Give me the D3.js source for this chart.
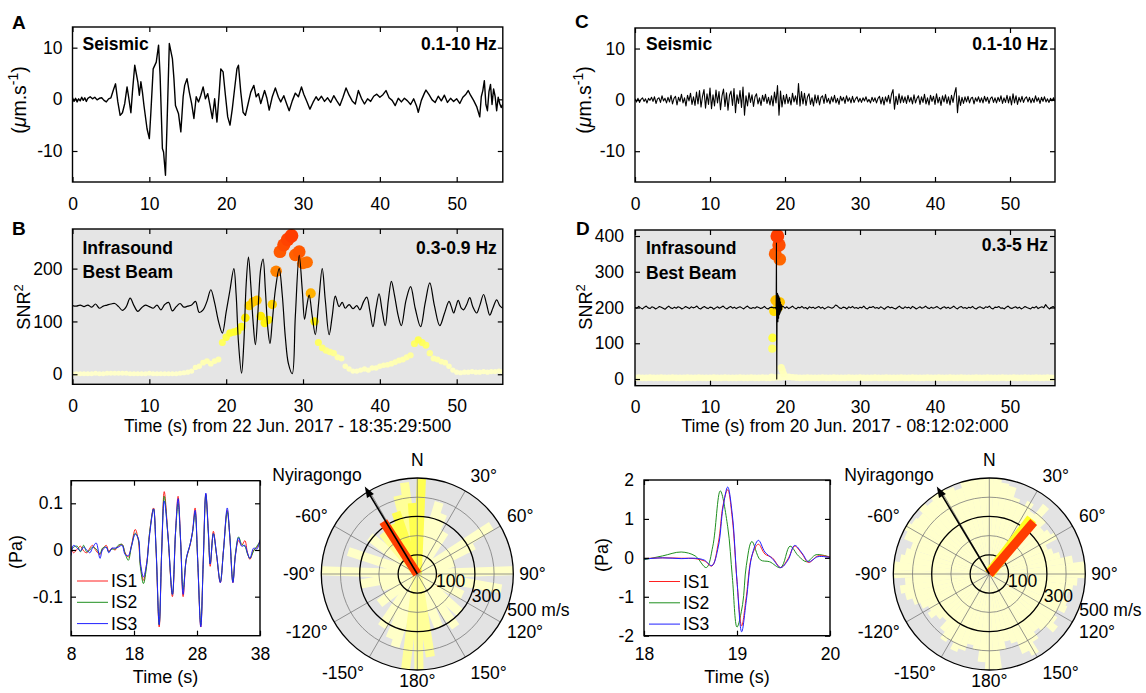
<!DOCTYPE html>
<html><head><meta charset="utf-8">
<script src="https://cdn.jsdelivr.net/npm/d3@7/dist/d3.min.js"></script>
<style>
html,body{margin:0;padding:0;background:#fff;}
svg{display:block;}
</style></head>
<body>
<svg id="fig" width="1146" height="693"></svg>
<script>
// ====================== DATA ======================
const timeTicks = [0,10,20,30,40,50];
const seisTicks = [-10,0,10];
const snrTicksB = [0,100,200];
const snrTicksD = [0,100,200,300,400];
const paTicksE = [-0.1,0,0.1];
const timeTicksE = [8,18,28,38];
const paTicksF = [-2,-1,0,1,2];
const timeTicksF = [18,19,20];

// Panel A: seismic trace (t [s], velocity [µm/s])
const seisA = [[0,0.3],[0.2,-0.4],[0.4,0.2],[0.6,-0.5],[0.8,0.1],[1,-0.3],[1.2,0.4],[1.4,-0.2],[1.6,0.3],[1.8,-0.4],[2,0.2],[2.3,0.5],[2.6,0.1],[2.9,0.4],[3.2,-0.1],[3.5,0.2],[3.8,0.3],[4.1,-0.2],[4.4,-0.5],[4.7,0.1],[5,0.3],[5.3,1.7],[5.6,3.0],[5.9,-0.5],[6.2,-3.1],[6.5,-2.6],[6.8,-0.8],[7.1,2.4],[7.3,0.5],[7.6,-2.6],[7.8,1.4],[8.1,6.6],[8.3,5.0],[8.5,3.4],[8.7,0.8],[8.9,3.4],[9.1,1.4],[9.3,-1.2],[9.7,-5.7],[10,-7.6],[10.2,-2.5],[10.5,5.9],[10.9,7.2],[11.2,10.5],[11.4,4.6],[11.7,-9.5],[11.85,-10.2],[12.1,-14.7],[12.3,-5.0],[12.6,10.8],[13,7.9],[13.2,4.0],[13.4,-1.2],[13.8,-2.8],[14.1,-6.3],[14.4,0.5],[14.6,2.7],[14.9,4.0],[15.2,1.4],[15.5,-0.8],[15.8,-3.7],[16.1,0.5],[16.4,-0.5],[16.7,0.8],[17,2.4],[17.3,0.1],[17.6,1.1],[17.9,-1.2],[18.2,-3.7],[18.5,0.1],[18.8,-4.4],[19.1,1.4],[19.3,5.9],[19.6,5.3],[19.9,0.8],[20.2,-3.4],[20.5,-5.0],[20.8,-1.8],[21.1,2.1],[21.4,5.9],[21.6,6.6],[21.9,1.4],[22.2,-2.5],[22.5,-3.1],[22.8,-1.2],[23.2,1.4],[23.6,2.7],[23.9,0.5],[24.2,1.1],[24.5,-0.8],[25,1.7],[25.3,0.2],[25.6,-2.1],[26,0.5],[26.4,2.2],[26.8,0.4],[27.1,-0.5],[27.5,0.7],[27.9,-1.0],[28.2,-2.2],[28.6,-0.3],[29,1.2],[29.4,0.5],[29.8,2.4],[30.1,1.0],[30.5,-0.4],[30.9,-1.9],[31.3,-0.6],[31.7,0.5],[32,-0.2],[32.4,0.6],[32.8,-0.4],[33.2,0.3],[33.6,-0.6],[34,0.7],[34.4,-0.3],[34.8,-1.2],[35.2,0.4],[35.6,2.2],[36,0.8],[36.4,-0.3],[36.8,-0.9],[37.2,1.7],[37.6,0.2],[38,-0.9],[38.4,0.1],[38.8,-0.4],[39.2,0.6],[39.6,1.0],[40,0.4],[40.4,0.9],[40.8,1.7],[41.2,0.3],[41.6,-0.2],[42,-1.2],[42.4,0.2],[42.8,-0.5],[43.2,0.2],[43.6,-0.3],[44,-1.0],[44.4,0.1],[44.8,-1.4],[45,-2.5],[45.4,-0.2],[45.8,1.2],[46,1.8],[46.4,0.9],[46.8,-0.1],[47.2,-0.6],[47.6,0.6],[48,-0.3],[48.4,0.8],[48.8,-0.6],[49.2,0.2],[49.6,-0.4],[50,0.1],[50.4,-0.8],[50.8,0.4],[51.2,1.0],[51.5,1.7],[51.8,0.8],[52.2,-0.2],[52.6,-1.4],[53,-3.4],[53.2,0.5],[53.4,1.7],[53.6,3.6],[53.8,-1.0],[54,-2.2],[54.2,1.5],[54.4,2.9],[54.6,-1.0],[54.8,2.0],[55,0.6],[55.2,-2.2],[55.4,0.4],[55.6,-0.8],[55.8,-1.6],[56,-0.9]];

// Panel C: seismic trace sampled every 0.2 s
const seisC_dt = 0.2;
const seisC = [0.2,-0.4,0.3,-0.5,0.1,0.4,-0.3,0.2,-0.6,0.3,-0.1,
0.5,-0.3,0.6,-0.7,0.2,0.4,-0.5,0.8,-0.2,0.3,
-0.6,0.5,-0.4,0.9,-0.8,0.3,0.7,-1.0,0.5,-0.3,
1.1,-0.6,0.4,-1.2,0.9,-0.2,1.3,-0.9,0.6,-1.1,
1.5,-0.8,1.8,-1.4,0.7,2.0,-1.6,1.2,-0.9,2.3,
-1.7,1.0,-1.2,1.9,-0.6,1.6,-1.9,0.8,2.1,-1.3,
1.4,-2.0,0.9,1.7,-1.1,2.2,-2.5,1.0,-0.7,1.8,
-1.5,2.5,-3.0,0.8,-1.2,1.4,-0.5,1.0,-1.3,0.6,
1.2,-0.8,0.4,-1.1,0.9,-0.3,1.1,-0.7,0.5,-1.0,
0.8,-1.2,1.5,-0.6,2.8,-3.0,1.7,-1.4,0.9,-0.8,
1.1,-0.7,0.5,-1.0,1.3,-0.4,0.8,-0.9,3.2,-1.2,
1.6,-0.8,1.3,-1.1,0.6,1.2,-0.9,0.4,-1.2,1.0,
-0.6,0.9,-1.0,0.5,0.8,-0.7,1.1,-0.5,0.3,-0.8,
0.6,-0.4,0.9,-0.6,0.3,-0.9,0.7,-0.2,0.5,-0.7,
0.8,-0.3,0.4,-0.6,0.7,-0.5,0.2,0.6,-0.4,0.3,
-0.5,0.4,-0.2,0.6,-0.4,0.1,-0.6,0.5,-0.3,0.4,
-0.6,0.3,0.7,-0.8,0.5,-1.0,0.6,-0.4,0.9,-0.7,
1.1,2.0,-1.8,0.7,-0.9,1.2,-0.6,0.8,-0.5,0.6,
-0.7,0.9,-0.4,0.5,-0.8,1.0,-0.6,0.3,0.8,-0.9,
0.6,-0.5,1.1,-0.8,0.4,-1.0,0.9,-0.3,0.7,-0.9,
1.2,-0.6,0.5,-1.1,0.8,-0.4,1.0,-0.7,0.6,-1.0,
0.9,-0.5,1.2,2.4,-2.5,0.8,-1.1,0.5,-0.7,0.6,
-0.4,0.7,-0.6,0.3,0.5,-0.8,0.4,-0.3,0.6,-0.5,
0.4,-0.6,0.7,-0.3,0.5,-0.7,0.3,0.6,-0.5,0.4,
-0.6,0.5,-0.3,0.8,-0.7,0.4,-0.5,0.9,-0.6,0.7,
-1.0,1.2,-0.6,0.8,-0.9,0.5,-0.4,0.7,-0.5,0.3,
0.6,-0.4,0.5,-0.6,0.3,-0.5,0.8,-0.3,0.4,-0.7,
0.5,-0.3,0.6,-0.4,0.2,-0.5,0.3,-0.2,0.4,-0.3];

// Panel B: best-beam waveform (t, SNR^2 scale) and detections every 0.5 s
const beamB = [[0,130],[0.5,129],[1,131],[1.5,128],[2,131],[2.5,127],[3,133],[3.5,125],[4,129],[4.5,131],[5,133],[5.5,134],[6,128],[6.5,121],[7,128],[7.5,144],[8,130],[8.5,119],[9,126],[9.5,131],[10,128],[10.5,125],[11,131],[11.5,122],[12,132],[12.5,136],[13,120],[13.5,128],[14,134],[14.5,127],[15,129],[15.5,131],[16,138],[16.5,117],[17,122],[17.5,138],[18,160],[18.5,135],[19,100],[19.5,78],[20,118],[20.5,160],[21,200],[21.3,150],[21.6,60],[22,2],[22.3,60],[22.6,170],[22.9,222],[23.2,170],[23.5,100],[23.8,56],[24.1,110],[24.5,200],[24.8,218],[25.1,160],[25.4,90],[25.7,58],[26,100],[26.4,160],[26.9,200],[27.3,150],[27.7,70],[28.1,20],[28.6,1],[29,110],[29.5,225],[29.9,160],[30.2,104],[30.5,130],[30.8,150],[31.2,110],[31.6,75],[32,130],[32.5,200],[32.9,140],[33.4,75],[33.8,110],[34.2,148],[34.7,128],[35.1,136],[35.5,125],[36,132],[36.5,124],[37,130],[37.4,122],[37.9,138],[38.3,146],[38.7,120],[39.1,90],[39.5,125],[39.9,152],[40.3,120],[40.7,92],[41.1,140],[41.5,176],[41.9,150],[42.4,110],[42.8,92],[43.4,140],[44,166],[44.6,125],[45.3,90],[45.9,135],[46.5,173],[47.1,130],[47.8,92],[48.4,115],[49,138],[49.3,128],[49.6,116],[49.9,128],[50.2,140],[50.6,125],[50.9,122],[51.3,132],[51.7,145],[52.1,128],[52.6,116],[53,130],[53.5,151],[53.9,132],[54.3,112],[54.7,125],[55.2,141],[55.6,130],[56,125]];
const detB_dt = 0.5;
const detB = [1,1,1,1,1,1,2,1,1,2, 2,2,2,2,2,1,1,1,1,1, 2,1,1,1,1,1,1,1,2,3, 4,6,13,15,22,25,20,25,28,60, 70,78,80,82,90,107,130,137,140,110, 97,103,132,195,232,245,255,262,226,232, 210,212,153,100,60,50,45,42,40,32, 30,15,10,6,6,8,10,8,12,12, 15,17,18,20,23,26,28,32,36,58, 65,60,55,40,30,28,24,22,15,8, 4,3,4,4,5,4,4,5,4,5, 5,6,5];

// Panel D: best-beam waveform every 0.25 s plus the event, detections
const beamD_dt = 0.25;
const beamD = [200,198,203,199,196,201,204,199,197,
202,200,196,199,203,201,198,195,
200,204,199,197,201,198,202,200,
196,199,203,200,197,202,199,201,
204,198,196,200,203,199,197,201,
200,195,199,202,198,201,204,199,
196,200,203,198,201,197,200,202,
199,196,201,204,199,197,200,198,
202,200,197,199,203,198,196,200,
201,199,200,200,200,200,203,198,
202,197,200,204,199,196,201,199,
203,198,200,196,202,199,201,197,
200,203,198,201,196,199,202,200,
198,201,207,204,199,197,201,200,
196,202,199,203,198,200,197,201,
199,204,198,196,201,200,203,198,
200,197,202,199,195,200,203,199,
201,198,196,200,204,199,197,202,
199,201,197,203,200,196,199,202,
198,200,204,199,197,201,198,200,
203,199,196,200,202,198,201,197,
200,204,199,196,201,203,198,200,
197,201,199,203,198,196,200,202,
199,197,202,200,204,198,196,201,
200,203,198,199,196,201,204,199,
197,200,202,198,201,196,199,203,
200,198,196,201,199,203,197,200,
202,199,208,201,196,200,203,198];
const beamD_event = [[18.75,200],[18.82,196],[18.86,380],[18.9,0],[18.95,205],[19.0,240],[19.05,160],[19.1,235],[19.15,170],[19.2,230],[19.25,180],[19.3,225],[19.35,185],[19.4,215],[19.45,190],[19.5,208],[19.55,194],[19.6,204]];
const detD_dt = 0.5;
const detD = [3,4,3,3,4,3,3,4,3,3, 4,3,3,3,4,3,3,4,3,3, 3,4,3,3,4,3,3,3,4,3, 3,4,3,3,4,3,3,4,5,5, 6,6,5,4,3,3,4,3,3,3, 4,3,3,4,3,3,3,4,3,3, 4,3,3,3,4,3,3,4,3,3, 3,4,3,3,4,3,3,3,4,3, 3,4,3,3,4,3,3,4,3,3, 3,4,3,3,4,3,3,3,4,3, 3,4,3,3,4,3,3,4,3,3, 4,3,3];
const detD_event = [[18.2,6],[18.3,85],[18.35,115],[18.55,190],[18.75,220],[18.7,350],[18.98,400],[19.2,375],[19.3,335],[19.3,215],[19.05,200],[19.5,32],[19.65,24],[19.8,15],[19.95,9]];

// Bottom-left: pressure at IS1, IS2, IS3 [t, IS1, IS2, IS3] (Pa)
const waveE = [[8.0,0.008,-0.002,-0.012],[8.4,-0.006,0.006,0.010],[9.0,0.002,0.008,0.004],[9.5,0.008,-0.004,-0.002],[10.0,-0.002,0.010,0.006],[10.5,-0.006,-0.004,0.000],[11.0,0.004,0.000,-0.006],[11.4,0.010,0.006,0.004],[12.0,-0.002,0.002,0.015],[12.6,-0.010,-0.008,-0.018],[13.0,0.002,0.004,0.000],[13.6,0.010,0.006,0.006],[14.0,-0.003,-0.004,-0.006],[14.5,0.004,0.002,0.004],[15.0,0.000,0.002,0.004],[15.5,0.008,0.010,0.006],[16.1,0.012,0.012,0.010],[16.6,-0.006,-0.008,-0.010],[17.1,-0.015,-0.022,-0.012],[17.6,0.010,0.008,0.008],[18.2,0.044,0.036,0.034],[18.7,0.020,0.022,0.024],[19.0,-0.030,-0.035,-0.025],[19.5,-0.065,-0.072,-0.058],[20.0,-0.030,-0.035,-0.030],[20.5,0.040,0.040,0.035],[21.1,0.090,0.088,0.088],[21.5,0.000,0.002,0.004],[22.0,-0.165,-0.160,-0.160],[22.4,0.000,0.000,-0.002],[22.8,0.125,0.115,0.105],[23.4,0.030,0.028,0.030],[24.1,-0.100,-0.095,-0.095],[24.6,0.040,0.038,0.040],[25.0,0.115,0.100,0.110],[25.4,0.020,0.018,0.020],[25.8,-0.100,-0.085,-0.095],[26.3,-0.020,-0.020,-0.018],[26.9,0.010,0.012,0.012],[27.3,0.040,0.038,0.040],[27.7,0.090,0.080,0.085],[28.1,-0.020,-0.020,-0.018],[28.6,-0.165,-0.160,-0.165],[29.0,-0.020,-0.022,-0.022],[29.4,0.120,0.118,0.122],[29.8,0.040,0.036,0.040],[30.1,-0.035,-0.030,-0.030],[30.6,0.040,0.035,0.035],[31.1,-0.010,-0.010,-0.008],[31.7,-0.070,-0.068,-0.070],[32.2,0.000,-0.002,-0.002],[32.8,0.085,0.082,0.090],[33.2,0.030,0.032,0.030],[33.7,-0.070,-0.068,-0.070],[34.1,-0.010,-0.008,-0.012],[34.6,0.020,0.028,0.026],[35.1,0.010,0.012,0.008],[35.6,0.020,0.008,0.010],[36.0,-0.005,-0.008,-0.006],[36.4,-0.020,-0.018,-0.018],[37.0,0.000,-0.002,0.004],[37.5,0.005,0.008,0.002],[38.0,0.020,0.018,0.022]];

// Bottom-right: [t, IS1, IS3] and [t, IS2] (Pa)
const waveF13 = [[18.0,-0.02,-0.03],[18.2,0.0,0.0],[18.4,-0.01,-0.02],[18.55,-0.02,-0.01],[18.65,-0.08,-0.06],[18.73,-0.21,-0.2],[18.8,0.4,0.3],[18.85,1.35,1.3],[18.9,1.75,1.82],[18.95,1.0,1.1],[19.0,-0.6,-0.6],[19.05,-1.75,-1.9],[19.1,-1.0,-1.1],[19.16,0.05,0.05],[19.23,0.35,0.45],[19.3,0.1,0.15],[19.38,0.0,-0.02],[19.47,-0.25,-0.25],[19.55,-0.02,-0.05],[19.62,0.3,0.32],[19.7,0.1,0.12],[19.77,-0.12,-0.1],[19.87,0.05,0.03],[20.0,0.02,0.01]];
const waveF2 = [[18.0,-0.05],[18.2,0.05],[18.4,0.15],[18.55,0.05],[18.67,-0.25],[18.74,0.3],[18.82,1.72],[18.9,0.8],[18.95,-0.5],[19.0,-1.78],[19.06,-1.2],[19.1,-0.2],[19.16,0.42],[19.25,-0.05],[19.35,-0.1],[19.47,-0.25],[19.57,0.3],[19.66,0.05],[19.75,-0.1],[19.85,0.08],[20.0,0.02]];
const stationNames = ["IS1","IS2","IS3"];
const stationColors = ["#ff2020","#1f8f1f","#2020ff"];

// Polar (back-azimuth / apparent velocity) plots
const polarTickAz = [0,30,60,90,120,150,180,-150,-120,-90,-60];
const polarRings = [100,200,300,400,500];
const polarRingLabels = ["100","300","500 m/s"];
const polarRingLabelVals = [100,300,500];
const nyiragongoAz = -31;
// left rose: bars [azimuth deg, velocity m/s, level]
const roseL_az  = [2.5,-8,-14,-19,-25,-4,11,17,23,33,57,63,72,88,100,115,132,144,158,171,179,-173,-163,-157,-146,-128,-110,-88,-72,-52,-40,-100];
const roseL_vel = [500,480,420,340,290,370,300,390,340,260,460,330,200,500,445,260,300,340,300,436,500,500,396,364,331,250,200,500,378,314,280,300];
const roseL_lvl = [2,1,1,2,2,2,0,0,0,0,0,0,0,0,0,0,0,0,0,1,1,1,0,0,0,0,0,0,0,0,1,0];
const roseL_best = [-33, 0, 325];   // azimuth, v0, v1
// right rose: velocity reached in 5-degree bins starting at 0 deg
const roseR_binDeg = 5;
const roseR_vel = [500,500,480,470,420,400,430,390,460,400, 360,380,400,330,350,380,440,500,500,460, 440,420,430,440,400,420,450,400,380,420, 480,450,380,360,400,500,500,460,400,380, 420,440,400,420,380,330,350,380,360,390, 420,450,470,440,500,500,470,450,430,480, 500,480,470,500,480,500,500,490,470,500, 500,500];
const roseR_bestY = [37.5, 0, 362];
const roseR_best = [40.5, 0, 356];

// ====================== DRAWING ======================
const FONT = '"Liberation Sans", Arial, Helvetica, sans-serif';
const svg = d3.select("#fig").attr("font-family", FONT);
const defs = svg.append("defs");
let clipN = 0;

function makePanel(b, xd, yd, bg){
  const x = d3.scaleLinear().domain(xd).range([b.x0,b.x1]);
  const y = d3.scaleLinear().domain(yd).range([b.y1,b.y0]);
  const g = svg.append("g");
  if(bg) g.append("rect").attr("x",b.x0).attr("y",b.y0).attr("width",b.x1-b.x0).attr("height",b.y1-b.y0).attr("fill",bg);
  const id = "clp"+(clipN++);
  defs.append("clipPath").attr("id",id).append("rect").attr("x",b.x0).attr("y",b.y0).attr("width",b.x1-b.x0).attr("height",b.y1-b.y0);
  const plot = g.append("g").attr("clip-path",`url(#${id})`);
  return {x,y,g,plot,b};
}
function finishAxes(p, xt, yt, xpad, ypad){
  const {x,y,g,b} = p;
  const fmt = d => String(d);
  const a = g.append("g");
  a.append("g").attr("transform",`translate(0,${b.y1})`).call(d3.axisBottom(x).tickValues(xt).tickSize(-5).tickPadding(xpad).tickFormat(fmt));
  a.append("g").attr("transform",`translate(0,${b.y0})`).call(d3.axisTop(x).tickValues(xt).tickSize(-5).tickFormat(""));
  a.append("g").attr("transform",`translate(${b.x0},0)`).call(d3.axisLeft(y).tickValues(yt).tickSize(-5).tickPadding(ypad).tickFormat(fmt));
  a.append("g").attr("transform",`translate(${b.x1},0)`).call(d3.axisRight(y).tickValues(yt).tickSize(-5).tickFormat(""));
  a.selectAll(".domain").remove();
  a.selectAll(".tick line").attr("stroke","#000").attr("stroke-width",1.2);
  a.selectAll("g").attr("font-family",FONT).attr("font-size",17.5);
  a.selectAll(".tick text").attr("fill","#000");
  a.append("rect").attr("x",b.x0).attr("y",b.y0).attr("width",b.x1-b.x0).attr("height",b.y1-b.y0)
    .attr("fill","none").attr("stroke","#000").attr("stroke-width",1.4);
}
function txt(x,y,s,o={}){
  const t = svg.append("text").attr("x",x).attr("y",y).attr("font-size",o.size||17)
    .attr("font-weight",o.bold?"bold":"normal").attr("text-anchor",o.anchor||"start").attr("fill","#000").text(s);
  return t;
}
function ylabelSeis(x,y){
  const t = svg.append("text").attr("transform",`translate(${x},${y}) rotate(-90)`).attr("text-anchor","middle").attr("font-size",19.5);
  t.append("tspan").text("(");
  t.append("tspan").attr("font-style","italic").text("\u03bc");
  t.append("tspan").text("m.s");
  t.append("tspan").attr("dy",-8).attr("font-size",14).text("-1");
  t.append("tspan").attr("dy",8).text(")");
}
function ylabelSNR(x,y){
  const t = svg.append("text").attr("transform",`translate(${x},${y}) rotate(-90)`).attr("text-anchor","middle").attr("font-size",18);
  t.append("tspan").text("SNR");
  t.append("tspan").attr("dy",-7).attr("font-size",13).text("2");
}
function ylabelPa(x,y){
  svg.append("text").attr("transform",`translate(${x},${y}) rotate(-90)`).attr("text-anchor","middle").attr("font-size",18).text("(Pa)");
}
const dotColor = d3.scaleLinear()
  .domain([0,0.12,0.22,0.3,0.4,0.5,0.6,0.75,0.9,1])
  .range(["#ffffcc","#ffffaa","#ffff66","#ffff33","#fff000","#ffd500","#ffaa00","#ff8000","#ff5500","#ff3c00"]).clamp(true);

// ---------- Panel A ----------
const boxA = {x0:72.5,x1:502.8,y0:27,y1:182};
const pA = makePanel(boxA,[0,56],[-16,14],null);
pA.plot.append("path").datum(seisA)
  .attr("d",d3.line().x(d=>pA.x(d[0])).y(d=>pA.y(d[1])))
  .attr("fill","none").attr("stroke","#000").attr("stroke-width",1.4).attr("stroke-linejoin","round");
finishAxes(pA,timeTicks,seisTicks,15.3,10);
txt(boxA.x0+10,boxA.y0+23,"Seismic",{bold:true,size:17.5});
txt(boxA.x1-6,boxA.y0+23,"0.1-10 Hz",{bold:true,size:17.5,anchor:"end"});
txt(12,29,"A",{bold:true,size:19});
ylabelSeis(26,100);

// ---------- Panel C ----------
const boxC = {x0:635,x1:1055,y0:28,y1:182};
const pC = makePanel(boxC,[0,56],[-16,14],null);
pC.plot.append("path").datum(seisC)
  .attr("d",d3.line().x((d,i)=>pC.x(i*seisC_dt)).y(d=>pC.y(d)))
  .attr("fill","none").attr("stroke","#000").attr("stroke-width",1.1).attr("stroke-linejoin","round");
finishAxes(pC,timeTicks,seisTicks,15.3,10);
txt(boxC.x0+11,boxC.y0+22,"Seismic",{bold:true,size:17.5});
txt(boxC.x1-7,boxC.y0+22,"0.1-10 Hz",{bold:true,size:17.5,anchor:"end"});
txt(575,28,"C",{bold:true,size:19});
ylabelSeis(591,100);

// ---------- Panel B ----------
const boxB = {x0:72.5,x1:502.8,y0:229,y1:384.3};
const pB = makePanel(boxB,[0,56],[-19,275],"#e5e5e5");
const maxB = d3.max(detB);
const dotsB = detB.map((v,i)=>({t:i*detB_dt,v})).sort((a,b)=>a.v-b.v);
pB.plot.selectAll("circle.d").data(dotsB).join("circle")
  .attr("cx",d=>pB.x(d.t)).attr("cy",d=>pB.y(d.v))
  .attr("r",d=>2.5+4.4*d.v/maxB).attr("fill",d=>dotColor(d.v/maxB));
pB.plot.append("path").datum(beamB)
  .attr("d",d3.line().curve(d3.curveCatmullRom.alpha(0.5)).x(d=>pB.x(d[0])).y(d=>pB.y(d[1])))
  .attr("fill","none").attr("stroke","#000").attr("stroke-width",1.2);
finishAxes(pB,timeTicks,snrTicksB,15.3,10);
txt(boxB.x0+10,boxB.y0+25,"Infrasound",{bold:true,size:17.5});
txt(boxB.x0+10,boxB.y0+49,"Best Beam",{bold:true,size:17.5});
txt(boxB.x1-6,boxB.y0+25,"0.3-0.9 Hz",{bold:true,size:17.5,anchor:"end"});
txt(12,235,"B",{bold:true,size:19});
ylabelSNR(30,307);
txt((boxB.x0+boxB.x1)/2,432,"Time (s) from 22 Jun. 2017 - 18:35:29:500",{anchor:"middle",size:17.5});

// ---------- Panel D ----------
const boxD = {x0:635,x1:1055,y0:230,y1:385.7};
const pD = makePanel(boxD,[0,56],[-18.7,416.8],"#e5e5e5");
const dAll = detD.map((v,i)=>({t:i*detD_dt,v})).concat(detD_event.map(d=>({t:d[0],v:d[1]})));
const maxD = d3.max(dAll,d=>d.v);
dAll.sort((a,b)=>a.v-b.v);
pD.plot.selectAll("circle.d").data(dAll).join("circle")
  .attr("cx",d=>pD.x(d.t)).attr("cy",d=>pD.y(d.v))
  .attr("r",d=>3.3+3.6*d.v/maxD).attr("fill",d=>dotColor(d.v/maxD));
const lineD = beamD.map((v,i)=>[i*beamD_dt,v]).filter(d=>d[0]<18.7||d[0]>19.65).concat(beamD_event).sort((a,b)=>a[0]-b[0]);
pD.plot.append("path").datum(lineD)
  .attr("d",d3.line().x(d=>pD.x(d[0])).y(d=>pD.y(d[1])))
  .attr("fill","none").attr("stroke","#000").attr("stroke-width",1.1).attr("stroke-linejoin","round");
finishAxes(pD,timeTicks,snrTicksD,15.3,11);
txt(boxD.x0+11,boxD.y0+24,"Infrasound",{bold:true,size:17.5});
txt(boxD.x0+11,boxD.y0+49,"Best Beam",{bold:true,size:17.5});
txt(boxD.x1-7,boxD.y0+21,"0.3-5 Hz",{bold:true,size:17.5,anchor:"end"});
txt(576,235,"D",{bold:true,size:19});
ylabelSNR(592,307);
txt((boxD.x0+boxD.x1)/2,432,"Time (s) from 20 Jun. 2017 - 08:12:02:000",{anchor:"middle",size:17.5});

// ---------- Bottom-left waveforms ----------
const boxE = {x0:71,x1:260,y0:480.7,y1:635.7};
const pE = makePanel(boxE,[8,38],[-0.1836,0.1484],null);
[1,2,3].forEach(k=>{
  pE.plot.append("path").datum(waveE)
    .attr("d",d3.line().curve(d3.curveCatmullRom.alpha(0.5)).x(d=>pE.x(d[0])).y(d=>pE.y(d[k])))
    .attr("fill","none").attr("stroke",stationColors[k-1]).attr("stroke-width",1);
});
finishAxes(pE,timeTicksE,paTicksE,12.2,8);
ylabelPa(22,552);
txt((boxE.x0+boxE.x1)/2,683,"Time (s)",{anchor:"middle",size:18});

// ---------- Bottom-right waveforms ----------
const boxF = {x0:644,x1:830,y0:480,y1:635.7};
const pF = makePanel(boxF,[18,20],[-2,2],null);
const lineF = d3.curveCatmullRom.alpha(0.5);
pF.plot.append("path").datum(waveF2)
  .attr("d",d3.line().curve(lineF).x(d=>pF.x(d[0])).y(d=>pF.y(d[1])))
  .attr("fill","none").attr("stroke",stationColors[1]).attr("stroke-width",1);
pF.plot.append("path").datum(waveF13)
  .attr("d",d3.line().curve(lineF).x(d=>pF.x(d[0])).y(d=>pF.y(d[1])))
  .attr("fill","none").attr("stroke",stationColors[0]).attr("stroke-width",1);
pF.plot.append("path").datum(waveF13)
  .attr("d",d3.line().curve(lineF).x(d=>pF.x(d[0])).y(d=>pF.y(d[2])))
  .attr("fill","none").attr("stroke",stationColors[2]).attr("stroke-width",1);
finishAxes(pF,timeTicksF,paTicksF,12.2,10);
ylabelPa(608,555);
txt((boxF.x0+boxF.x1)/2,683,"Time (s)",{anchor:"middle",size:18});

// legends
function legend(b, dx, y0){
  stationNames.forEach((n,i)=>{
    const y = y0 + i*21.3;
    svg.append("line").attr("x1",b.x0+dx).attr("x2",b.x0+dx+31).attr("y1",y).attr("y2",y)
      .attr("stroke",stationColors[i]).attr("stroke-width",1);
    txt(b.x0+dx+34,y+6,n,{size:17.5});
  });
}
legend(boxE,6,581);
legend(boxF,5,581.5);

// ---------- Polar plots ----------
const R = 96;
function rose(cx, cy, drawFill, best, bestUnder){
  const rs = d3.scaleLinear().domain([0,500]).range([0,R]);
  const g = svg.append("g");
  const id = "clp"+(clipN++);
  defs.append("clipPath").attr("id",id).append("circle").attr("cx",cx).attr("cy",cy).attr("r",R);
  g.append("circle").attr("cx",cx).attr("cy",cy).attr("r",R).attr("fill","#e3e3e3");
  const inner = g.append("g").attr("clip-path",`url(#${id})`);
  drawFill(inner, rs);
  d3.range(0,360,30).forEach(a=>{
    const r = a*Math.PI/180;
    g.append("line").attr("x1",cx).attr("y1",cy).attr("x2",cx+R*Math.sin(r)).attr("y2",cy-R*Math.cos(r))
      .attr("stroke","#7a7a7a").attr("stroke-width",0.8);
  });
  polarRings.forEach((v,i)=>{
    const major = (i%2===0);
    g.append("circle").attr("cx",cx).attr("cy",cy).attr("r",rs(v)).attr("fill","none")
      .attr("stroke",major?"#000":"#7a7a7a").attr("stroke-width",major?1.3:0.8);
  });
  const bar = (spec, w, col) => {
    g.append("rect").attr("x",-w/2).attr("y",-rs(spec[2])).attr("width",w).attr("height",rs(spec[2])-rs(spec[1]))
      .attr("fill",col).attr("transform",`translate(${cx},${cy}) rotate(${spec[0]})`);
  };
  if(bestUnder) bar(bestUnder, 11, "#ffff22");
  bar(best, 9, "#ff3d00");
  const L = R + 6;
  const ag = g.append("g").attr("transform",`translate(${cx},${cy}) rotate(${nyiragongoAz})`);
  ag.append("line").attr("x1",0).attr("y1",0).attr("x2",0).attr("y2",-(L-8)).attr("stroke","#000").attr("stroke-width",1.6);
  ag.append("polygon").attr("points",`0,${-L} -4,${-(L-11)} 4,${-(L-11)}`).attr("fill","#000");
  const ar = nyiragongoAz*Math.PI/180;
  txt(cx+L*Math.sin(ar)-3, cy-L*Math.cos(ar)-6, "Nyiragongo", {anchor:"end",size:17.5});
  polarTickAz.forEach(a=>{
    const r = a*Math.PI/180, s = Math.sin(r), c = Math.cos(r);
    const rr = (c < -0.9 ? 100 : 108) - 6*s*s;
    const anchor = Math.abs(s)<0.1 ? "middle" : (s>0 ? "start" : "end");
    const dy = c>0.1 ? "0em" : (c<-0.1 ? "0.72em" : "0.35em");
    txt(cx+rr*s, cy-rr*c, a===0 ? "N" : a+"\u00b0", {anchor,size:17.5}).attr("dy",dy);
  });
  const la = 112*Math.PI/180;
  polarRingLabelVals.forEach((v,i)=>{
    txt(cx+rs(v)*Math.sin(la)+1, cy-rs(v)*Math.cos(la), polarRingLabels[i],{size:17.5}).attr("dy","0.35em");
  });
}

rose(417.3, 574, (g, rs)=>{
  const cols = ["#ffffc8","#ffff99","#ffff50"];
  const bars = roseL_az.map((a,i)=>({a, v:roseL_vel[i], l:roseL_lvl[i]})).sort((p,q)=>p.l-q.l);
  g.selectAll("rect").data(bars).join("rect")
    .attr("x",-4.5).attr("width",9).attr("y",d=>-rs(d.v)).attr("height",d=>rs(d.v))
    .attr("fill",d=>cols[d.l]).attr("transform",d=>`translate(417.3,574) rotate(${d.a})`);
}, roseL_best, null);

rose(989.3, 574, (g, rs)=>{
  const arc = d3.arc().innerRadius(0);
  g.selectAll("path").data(roseR_vel).join("path")
    .attr("d",(v,i)=>arc({outerRadius:rs(v), startAngle:(i*roseR_binDeg-2.6)*Math.PI/180, endAngle:(i*roseR_binDeg+2.6)*Math.PI/180}))
    .attr("fill","#ffffcc").attr("transform","translate(989.3,574)");
}, roseR_best, roseR_bestY);
</script>
</body></html>
